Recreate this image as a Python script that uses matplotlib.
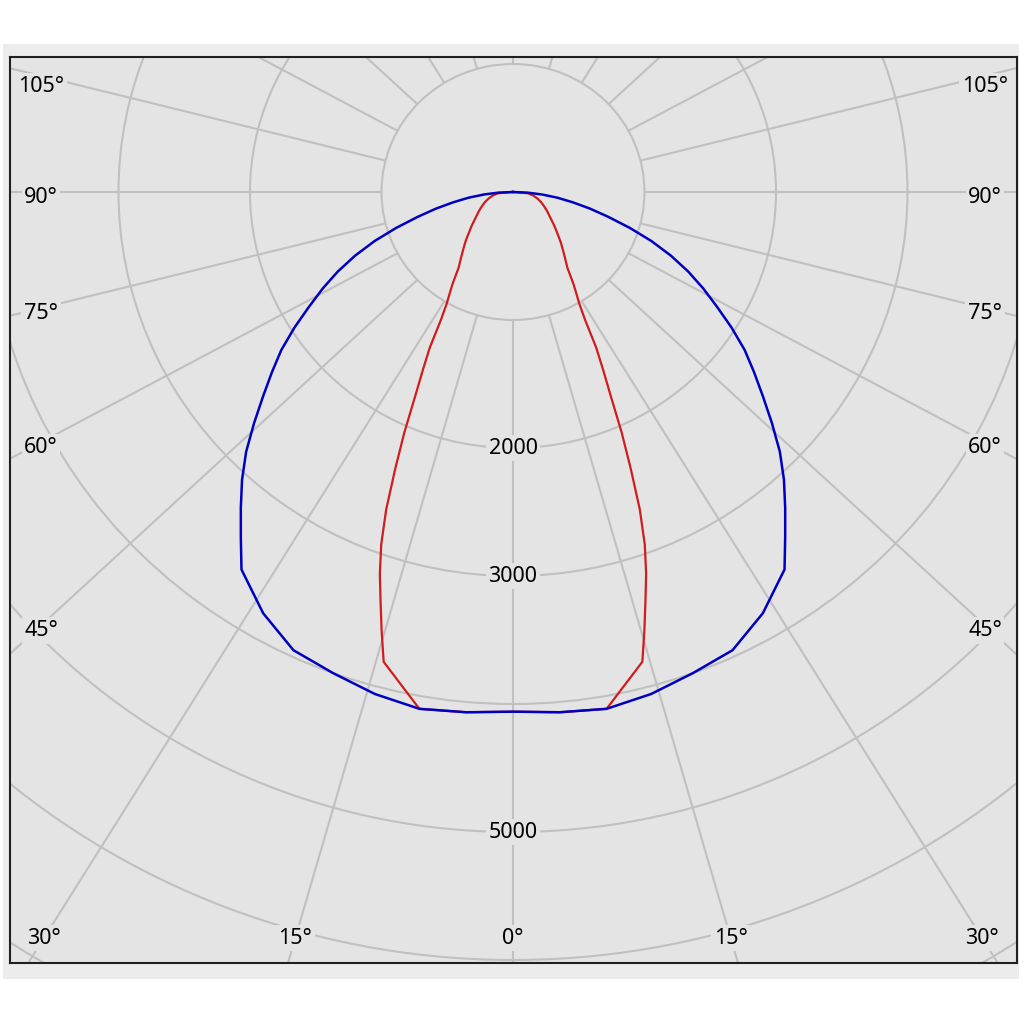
import numpy as np
import matplotlib
matplotlib.use("Agg")
import matplotlib.pyplot as plt
from matplotlib.patches import Circle, Rectangle

# ---------------- data (luminous intensity, cd) ----------------
# C0-C180 plane (blue)
gamma_c0 = [0, 5, 10, 15, 20, 25, 30, 35, 37.5, 40, 42.5, 45, 47.5, 50, 52.5, 55,
            57.5, 60, 62.5, 65, 67.5, 70, 72.5, 75, 77.5, 80, 82.5, 85, 87.5, 90]
intensity_c0 = [4060, 4080, 4100, 4060, 4000, 3950, 3800, 3600, 3400, 3220, 3050,
                2870, 2670, 2480, 2310, 2150, 1970, 1790, 1630, 1470, 1300, 1120,
                930, 750, 600, 460, 340, 220, 110, 0]

# C90-C270 plane (red)
gamma_c90 = [0, 5, 10, 15, 16.25, 17.5, 18.75, 20, 21.25, 22.5, 23.75, 25, 26.25,
             27.5, 28.75, 30, 32.5, 35, 37.5, 40, 42.5, 45, 50, 55, 60, 65, 70, 75,
             80, 85, 90]
intensity_c90 = [4060, 4080, 4100, 3800, 3570, 3350, 3150, 2930, 2660, 2340, 2050,
                 1760, 1550, 1370, 1140, 1010, 860, 720, 650, 590, 540, 490, 410,
                 345, 300, 260, 225, 190, 155, 115, 0]

ring_values = [1000, 2000, 3000, 4000, 5000, 6000, 7000, 8000, 9000]
ring_labels = ["2000", "3000", "5000"]
spoke_angles = [0, 15, 30, 45, 60, 75, 90, 105, 120, 135, 150, 165, 180]
side_angle_labels = [105, 90, 75, 60, 45]
bottom_angle_labels = [30, 15, 0]

# ---------------- style ----------------
BG = "#e4e4e4"
BAND = "#ececec"
GRID = "#c0c0c0"
BLUE = "#0000c0"
RED = "#d01c1c"
FONT = "Noto Sans"
FS = 15.5
SKEW = 1.06  # apparent horizontal spread of the spokes in the reference

W, H = 1024, 1024
fig = plt.figure(figsize=(W / 100, H / 100), dpi=100)
fig.patch.set_facecolor("white")

# outer light band
fig.patches.append(Rectangle((3 / W, 1 - 979 / H), (1019 - 3) / W, (979 - 44) / H,
                             transform=fig.transFigure, facecolor=BAND,
                             edgecolor="none", zorder=-10))

left_px, right_px, top_px, bot_px = 10, 1017, 56.7, 963
ax = fig.add_axes([left_px / W, 1 - bot_px / H, (right_px - left_px) / W,
                   (bot_px - top_px) / H])
ax.set_facecolor(BG)

# origin at pixel (513,192); 131.5 px per 1000 cd horizontally, 128 vertically
ox, oy = 513.0, 192.0
sx, sy = 0.1315, 0.128
ax.set_xlim((left_px - ox) / sx, (right_px - ox) / sx)
ax.set_ylim(-(bot_px - oy) / sy, (oy - top_px) / sy)
ax.set_xticks([])
ax.set_yticks([])
for s in ax.spines.values():
    s.set_color("#202020")
    s.set_linewidth(1.5)

# rings
for r in ring_values:
    ax.add_patch(Circle((0, 0), r, fill=False, edgecolor=GRID, linewidth=1.5, zorder=1))


def spoke_dir(g):
    a = np.radians(g)
    d = np.array([SKEW * np.sin(a), -np.cos(a)])
    return d / np.hypot(d[0], d[1])


r0 = ring_values[0]
for g in spoke_angles:
    for sgn in ([1] if g in (0, 180) else [-1, 1]):
        d = spoke_dir(g)
        d[0] *= sgn
        ax.plot([d[0] * r0, d[0] * 12000], [d[1] * r0, d[1] * 12000],
                color=GRID, linewidth=1.5, zorder=1, solid_capstyle="butt")

# ring labels on the 0 deg spoke
for lab in ring_labels:
    v = float(lab)
    ax.text(0, -v, lab, ha="center", va="center", fontsize=FS, family=FONT,
            color="black", zorder=3,
            bbox=dict(boxstyle="square,pad=0.12", fc=BG, ec="none"))

# angle labels
side_u = (985 - ox) / sx
top_limit = (oy - 86) / sy
for g in side_angle_labels:
    d = spoke_dir(g)
    t = side_u / abs(d[0])
    v = min(t * d[1] - 40, top_limit)
    for sgn in (-1, 1):
        ax.text(sgn * side_u, v, f"{g}°", ha="center", va="center", fontsize=FS,
                family=FONT, color="black", zorder=3,
                bbox=dict(boxstyle="square,pad=0.12", fc=BG, ec="none"))

bottom_v = -(938 - oy) / sy
for g in bottom_angle_labels:
    d = spoke_dir(g)
    t = bottom_v / d[1]
    u = t * d[0]
    for sgn in ([1] if g == 0 else [-1, 1]):
        ax.text(sgn * u, bottom_v, f"{g}°", ha="center", va="center", fontsize=FS,
                family=FONT, color="black", zorder=3,
                bbox=dict(boxstyle="square,pad=0.12", fc=BG, ec="none"))


def curve(gam, inten):
    g = np.radians(np.array(gam, dtype=float))
    i = np.array(inten, dtype=float)
    g_full = np.concatenate([-g[::-1], g[1:]])
    i_full = np.concatenate([i[::-1], i[1:]])
    return i_full * np.sin(g_full), -i_full * np.cos(g_full)


xr, yr = curve(gamma_c90, intensity_c90)
ax.plot(xr, yr, color=RED, linewidth=1.6, zorder=4, solid_joinstyle="round")
xb, yb = curve(gamma_c0, intensity_c0)
ax.plot(xb, yb, color=BLUE, linewidth=1.8, zorder=5, solid_joinstyle="round")

fig.savefig("out.png", dpi=100, facecolor=fig.get_facecolor())
